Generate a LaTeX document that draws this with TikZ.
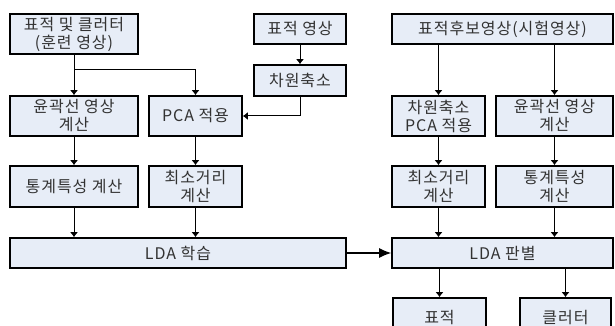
\documentclass[tikz,border=0pt]{standalone}
\usepackage{fontspec}
\setmainfont{Noto Sans CJK KR}[LetterSpace=6]
\usepackage{xcolor}
\definecolor{boxfill}{RGB}{231,237,247}
\definecolor{boxtext}{RGB}{50,50,50}
\usetikzlibrary{arrows.meta}
\newcommand{\txtsize}{\fontsize{16}{18}\selectfont}
\tikzset{
    common/.style={draw, rectangle, line width=1.6pt, fill=boxfill, text=boxtext,
        align=center, inner sep=0pt, font=\txtsize},
    stepbox/.style={common, minimum width=128pt, minimum height=40pt},
    narrowbox/.style={common, minimum width=93pt, minimum height=40pt},
    flatbox/.style={common, minimum height=30pt},
    link/.style={-{Latex[length=5pt, width=8pt]}, line width=1pt},
    biglink/.style={-{Latex[length=12pt, width=10pt]}, line width=1.2pt}
}

\begin{document}
\begin{tikzpicture}[x=1pt, y=-1pt]
        \useasboundingbox (0,0) rectangle (615,326);

        % training side
        \node[stepbox] (train) at (74,34) {표적 및 클러터\\(훈련 영상)};
        \node[flatbox, minimum width=92pt] (tgtimg) at (300,29) {표적 영상};
        \node[flatbox, minimum width=92pt, minimum height=31pt] (dimred) at (300,80.5) {차원축소};
        \node[stepbox] (contour) at (74,116) {윤곽선 영상\\계산};
        \node[narrowbox] (pca) at (195.5,116) {PCA 적용};
        \node[stepbox, minimum height=41pt] (stat) at (74,186.5) {통계특성 계산};
        \node[narrowbox, minimum height=41pt] (mindist) at (195.5,186.5) {최소거리\\계산};
        \node[flatbox, minimum width=336pt] (ldatrain) at (178,253) {LDA 학습};

        % test side
        \node[flatbox, minimum width=221pt] (test) at (502.5,29) {표적후보영상(시험영상)};
        \node[narrowbox] (tdimpca) at (438.5,116) {차원축소\\PCA 적용};
        \node[narrowbox, minimum width=117pt] (tcontour) at (554.5,116) {윤곽선 영상\\계산};
        \node[narrowbox, minimum height=41pt] (tmindist) at (438.5,186.5) {최소거리\\계산};
        \node[narrowbox, minimum width=117pt, minimum height=41pt] (tstat) at (554.5,186.5) {통계특성\\계산};
        \node[flatbox, minimum width=221pt] (ldatest) at (502.5,253) {LDA 판별};
        \node[narrowbox] (target) at (439.5,318) {표적};
        \node[narrowbox, minimum width=91pt] (clutter) at (565.5,318) {클러터};

        \coordinate (split) at (74,70);

        \draw[line width=1pt] (train) -- (split);
        \draw[link] (split) -- (contour);
        \draw[link] (split) -| (pca);
        \draw[link] (tgtimg) -- (dimred);
        \draw[link] (dimred.south) |- (pca.east);
        \draw[link] (contour) -- (stat);
        \draw[link] (pca) -- (mindist);
        \draw[link] (stat) -- (stat |- ldatrain.north);
        \draw[link] (mindist) -- (mindist |- ldatrain.north);
        \draw[biglink] (ldatrain) -- (ldatest);

        \draw[link] (test.south -| tdimpca) -- (tdimpca);
        \draw[link] (test.south -| tcontour) -- (tcontour);
        \draw[link] (tdimpca) -- (tmindist);
        \draw[link] (tcontour) -- (tstat);
        \draw[link] (tmindist) -- (tmindist |- ldatest.north);
        \draw[link] (tstat) -- (tstat |- ldatest.north);
        \draw[link] (ldatest.south -| target) -- (target);
        \draw[link] (ldatest.south -| clutter) -- (clutter);
    \end{tikzpicture}
\end{document}
